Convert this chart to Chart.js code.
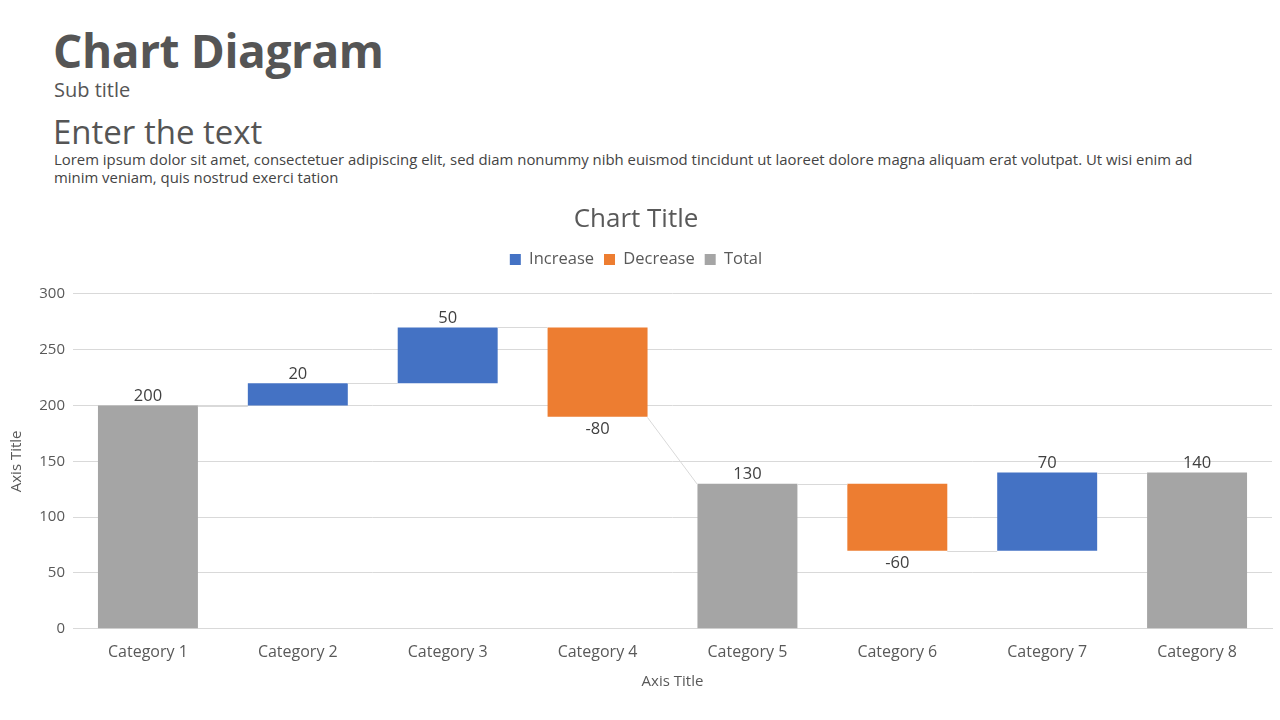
<!DOCTYPE html>
<html>
<head>
<meta charset="utf-8">
<script src="https://cdn.jsdelivr.net/npm/chart.js@4"></script>
<style>
  html, body { margin: 0; padding: 0; background: #fff; }
  body { width: 1280px; height: 720px; position: relative; overflow: hidden; font-family: "Open Sans", sans-serif; color: #555; }
  h1 { position: absolute; left: 53px; top: 22px; margin: 0; font-size: 46px; font-weight: 700; letter-spacing: -0.4px; line-height: 56px; color: #555; }
  .sub { position: absolute; left: 54px; top: 77px; font-size: 20px; line-height: 26px; color: #555; }
  .head2 { position: absolute; left: 53px; top: 111px; font-size: 33px; line-height: 42px; color: #555; }
  .lorem { position: absolute; left: 54px; top: 151px; font-size: 14.9px; line-height: 17.5px; color: #444; width: 1220px; }
  #wrap { position: absolute; left: 0; top: 198px; width: 1280px; height: 522px; }
</style>
</head>
<body>
<h1>Chart Diagram</h1>
<div class="sub">Sub title</div>
<div class="head2">Enter the text</div>
<div class="lorem">Lorem ipsum dolor sit amet, consectetuer adipiscing elit, sed diam nonummy nibh euismod tincidunt ut laoreet dolore magna aliquam erat volutpat. Ut wisi enim ad<br>minim veniam, quis nostrud exerci tation</div>
<div id="wrap"><canvas id="chart"></canvas></div>
<script>
const categories = ['Category 1', 'Category 2', 'Category 3', 'Category 4', 'Category 5', 'Category 6', 'Category 7', 'Category 8'];
const values = [200, 20, 50, -80, 130, -60, 70, 140];
const kinds = ['total', 'increase', 'increase', 'decrease', 'total', 'decrease', 'increase', 'total'];
const seriesNames = ['Increase', 'Decrease', 'Total'];
const seriesKinds = ['increase', 'decrease', 'total'];
const seriesColors = ['#4472c4', '#ed7d31', '#a5a5a5'];

// running level -> floating [start, end] for each bar
let level = 0;
const ranges = values.map((v, i) => {
    if (kinds[i] === 'total') {
        level = v;
        return [0, v];
    }
    const start = level;
    level += v;
    return [start, level];
});

const datasets = seriesKinds.map((k, s) => ({
    label: seriesNames[s],
    data: ranges.map((r, i) => kinds[i] === k ? r : null),
    backgroundColor: seriesColors[s],
    borderWidth: 0,
    grouped: false,
    categoryPercentage: 1,
    barPercentage: 0.667
}));

function barElement(chart, i) {
    const ds = seriesKinds.indexOf(kinds[i]);
    return chart.getDatasetMeta(ds).data[i];
}

const waterfallExtras = {
    id: 'waterfallExtras',
    afterDatasetsDraw(chart) {
        const ctx = chart.ctx;
        const y = chart.scales.y;
        ctx.save();
        // connectors
        ctx.strokeStyle = '#d9d9d9';
        ctx.lineWidth = 1;
        for (let i = 0; i < values.length - 1; i++) {
            const a = barElement(chart, i);
            const b = barElement(chart, i + 1);
            const fromVal = ranges[i][1];
            const toVal = kinds[i + 1] === 'total' ? ranges[i + 1][1] : ranges[i + 1][0];
            ctx.beginPath();
            ctx.moveTo(a.x + a.width / 2, Math.round(y.getPixelForValue(fromVal)) + 0.5);
            ctx.lineTo(b.x - b.width / 2, Math.round(y.getPixelForValue(toVal)) + 0.5);
            ctx.stroke();
        }
        // value labels
        ctx.fillStyle = '#404040';
        ctx.font = '16.5px "Open Sans"';
        ctx.textAlign = 'center';
        for (let i = 0; i < values.length; i++) {
            const el = barElement(chart, i);
            const hi = Math.max(ranges[i][0], ranges[i][1]);
            const lo = Math.min(ranges[i][0], ranges[i][1]);
            if (kinds[i] === 'decrease') {
                ctx.textBaseline = 'top';
                ctx.fillText(String(values[i]), el.x, y.getPixelForValue(lo) + 4);
            } else {
                ctx.textBaseline = 'bottom';
                ctx.fillText(String(values[i]), el.x, y.getPixelForValue(hi) - 1);
            }
        }
        ctx.restore();
    }
};

Chart.defaults.font.family = '"Open Sans", sans-serif';
Chart.defaults.color = '#595959';

new Chart(document.getElementById('chart'), {
    type: 'bar',
    data: { labels: categories, datasets: datasets },
    plugins: [waterfallExtras],
    options: {
        responsive: true,
        maintainAspectRatio: false,
        animation: false,
        layout: { padding: { left: 0, right: 8, top: 0, bottom: 29 } },
        plugins: {
            title: {
                display: true,
                text: 'Chart Title',
                font: { size: 26, weight: 'normal' },
                color: '#595959',
                padding: { top: 6, bottom: 6 }
            },
            // empty spacer placed under the legend
            subtitle: {
                display: true,
                text: ' ',
                weight: 500,
                font: { size: 1 },
                padding: { top: 0, bottom: 15 }
            },
            legend: {
                position: 'top',
                labels: {
                    boxWidth: 11,
                    boxHeight: 11,
                    font: { size: 16.5 },
                    color: '#595959',
                    padding: 10
                }
            },
            tooltip: { enabled: false }
        },
        scales: {
            x: {
                grid: { display: false, drawTicks: false },
                border: { display: true, color: '#d9d9d9' },
                ticks: { font: { size: 16 }, color: '#595959', padding: 14 },
                title: { display: true, text: 'Axis Title', font: { size: 15 }, color: '#595959', padding: { top: -3, bottom: 0 } }
            },
            y: {
                min: 0,
                max: 300,
                ticks: { stepSize: 50, font: { size: 15 }, color: '#595959', padding: 8 },
                grid: { color: '#d9d9d9', drawTicks: false },
                border: { display: false },
                title: { display: true, text: 'Axis Title', font: { size: 15 }, color: '#595959', padding: { top: 8, bottom: 0 } },
                afterFit(scale) { scale.width = 73; }
            }
        }
    }
});
</script>
</body>
</html>
